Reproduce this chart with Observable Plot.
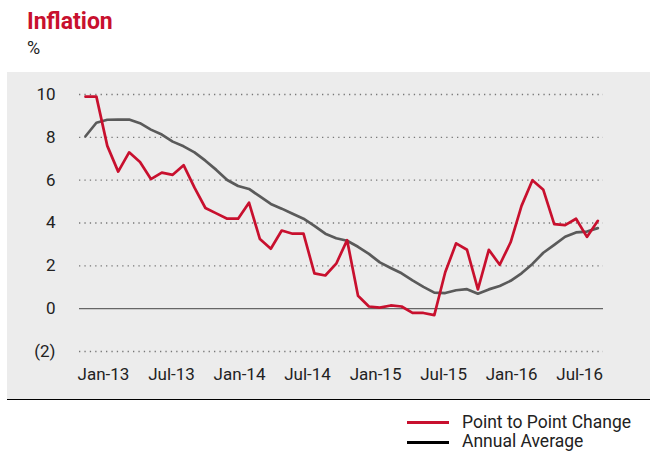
<!DOCTYPE html>
<html><head><meta charset="utf-8">
<script src="https://cdn.jsdelivr.net/npm/d3@7"></script>
<script src="https://cdn.jsdelivr.net/npm/@observablehq/plot@0.6"></script>
<style>
html,body{margin:0;padding:0;background:#fff;width:651px;height:452px;overflow:hidden;font-family:Roboto,"DejaVu Sans",sans-serif;color:#222;}
.abs{position:absolute;line-height:1;white-space:nowrap;}
#title{left:27px;top:10px;font-size:23px;font-weight:bold;color:#c8102e;}
#unit{left:27px;top:39px;font-size:18px;}
#chart{position:absolute;left:7px;top:72px;}
#chart svg{display:block;border-bottom:1.5px solid #000;}
.sw{position:absolute;left:407px;width:42px;height:3px;}
.lt{left:462px;font-size:17.5px;}
</style></head>
<body>
<div id="title" class="abs">Inflation</div>
<div id="unit" class="abs">%</div>
<div id="chart"></div>
<div class="sw" style="top:421px;background:#c8102e"></div>
<div class="abs lt" style="top:413.6px">Point to Point Change</div>
<div class="sw" style="top:440.5px;background:#000"></div>
<div class="abs lt" style="top:433.2px">Annual Average</div>
<script>
// Monthly inflation (%), 48 observations
const pointToPoint = [9.9, 9.9, 7.6, 6.4, 7.3, 6.85, 6.05, 6.35, 6.25, 6.7, 5.65, 4.7, 4.45, 4.2, 4.2, 4.95,
  3.25, 2.8, 3.65, 3.5, 3.5, 1.65, 1.55, 2.1, 3.2, 0.6, 0.1, 0.05, 0.15, 0.1, -0.2, -0.2, -0.3,
  1.7, 3.05, 2.75, 0.9, 2.75, 2.05, 3.1, 4.8, 6.0, 5.55, 3.95, 3.9, 4.2, 3.35, 4.1];
const annualAverage = [8.05, 8.68, 8.82, 8.83, 8.83, 8.66, 8.36, 8.13, 7.8, 7.58, 7.3, 6.91, 6.48, 6.01, 5.73, 5.59,
  5.24, 4.89, 4.67, 4.43, 4.2, 3.87, 3.5, 3.29, 3.17, 2.89, 2.56, 2.16, 1.9, 1.65, 1.32, 1.02, 0.75,
  0.73, 0.86, 0.91, 0.7, 0.9, 1.06, 1.3, 1.65, 2.09, 2.61, 2.98, 3.36, 3.56, 3.6, 3.76];
const xTickLabels = ["Jan-13", "Jul-13", "Jan-14", "Jul-14", "Jan-15", "Jul-15", "Jan-16", "Jul-16"];
const yTicks = [-2, 0, 2, 4, 6, 8, 10];

const rows = pointToPoint.map((v, i) => ({i, p2p: v, avg: annualAverage[i]}));
const xTickPos = xTickLabels.map((_, k) => 1.65 + 6.24 * k);

const plot = Plot.plot({
  width: 643, height: 327,
  marginLeft: 72, marginRight: 47, marginTop: 22, marginBottom: 48,
  style: {background: "#ececec", fontSize: "17px", fontFamily: "Roboto, sans-serif", color: "#222", overflow: "visible"},
  x: {domain: [-0.55, 47.52], axis: null, label: null},
  y: {domain: [-2, 10], axis: null, label: null},
  marks: [
    Plot.ruleY(yTicks.filter(d => d !== 0), {stroke: "#777", strokeWidth: 1.3, strokeDasharray: "1.3,4.1"}),
    Plot.ruleY([0], {stroke: "#666", strokeWidth: 1.3}),
    Plot.axisY(yTicks, {tickSize: 0, tickPadding: 24, label: null, tickFormat: d => d < 0 ? `(${-d})` : `${d}`}),
    Plot.axisX(xTickPos, {tickSize: 0, tickPadding: 16, label: null, tickFormat: d => xTickLabels[xTickPos.indexOf(d)]}),
    Plot.line(rows, {x: "i", y: "avg", stroke: "#5a5a5a", strokeWidth: 2.7}),
    Plot.line(rows, {x: "i", y: "p2p", stroke: "#c8102e", strokeWidth: 2.7})
  ]
});
document.getElementById("chart").appendChild(plot);
</script>
</body></html>
